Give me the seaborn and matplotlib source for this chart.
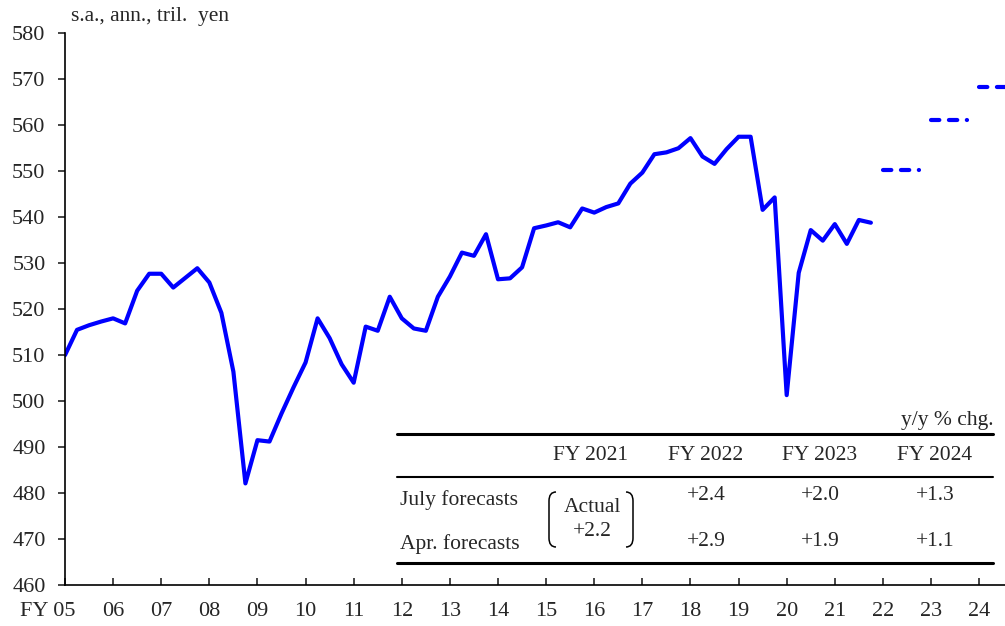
import numpy as np
import pandas as pd
import seaborn as sns
import matplotlib
matplotlib.use("Agg")
from matplotlib import pyplot as plt
from matplotlib.lines import Line2D
from matplotlib.path import Path
from matplotlib.patches import PathPatch
from matplotlib.transforms import ScaledTranslation

# real GDP, quarterly, FY05 Q1 .. FY21 Q4
gdp = [510.0, 515.5, 516.5, 517.3, 518.0, 516.9, 524.0, 527.7, 527.7, 524.7,
       526.8, 528.9, 525.8, 519.2, 506.4, 482.1, 491.5, 491.2, 497.3, 503.0,
       508.4, 518.0, 513.7, 508.0, 504.0, 516.2, 515.3, 522.7, 518.0, 515.8,
       515.3, 522.7, 527.1, 532.3, 531.6, 536.3, 526.5, 526.7, 529.1, 537.6,
       538.2, 538.9, 537.8, 541.9, 541.0, 542.2, 543.0, 547.3, 549.7, 553.7,
       554.1, 555.0, 557.2, 553.2, 551.6, 554.8, 557.5, 557.5, 541.6, 544.3,
       501.3, 527.9, 537.2, 534.9, 538.5, 534.2, 539.4, 538.8]
fc_years = [2022, 2023, 2024]
fc_level = [550.3, 561.1, 568.4]
year_labels = ["FY 05", "06", "07", "08", "09", "10", "11", "12", "13", "14",
               "15", "16", "17", "18", "19", "20", "21", "22", "23", "24"]

tbl_cols = ["FY 2021", "FY 2022", "FY 2023", "FY 2024"]
tbl_rows = ["July forecasts", "Apr. forecasts"]
tbl_actual = "+2.2"
tbl_july = ["+2.4", "+2.0", "+1.3"]
tbl_apr = ["+2.9", "+1.9", "+1.1"]

sns.set_style("white")
plt.rcParams['font.family'] = ['Liberation Serif', 'DejaVu Serif']

W, H = 1005, 626
fig = plt.figure(figsize=(W / 100, H / 100), dpi=100)
ax = fig.add_axes([65 / W, (H - 585) / H, 1 - 65 / W, (585 - 33.3) / H])

df = pd.DataFrame({"q": np.arange(len(gdp)), "gdp": gdp})
sns.lineplot(data=df, x="q", y="gdp", ax=ax, color="#0000ff", lw=3,
             solid_capstyle="round", solid_joinstyle="round")

# forecasts: fiscal year average held flat over the 4 quarters
rows = []
for yr, lv in zip(fc_years, fc_level):
    for k in range(4):
        rows.append({"q": (yr - 2005) * 4 + k, "v": lv, "fy": yr})
fc = pd.DataFrame(rows)
for yr, g in fc.groupby("fy"):
    sns.lineplot(data=g, x="q", y="v", ax=ax, color="#0000ff", lw=3,
                 linestyle=(0, (2, 2.3)), dash_capstyle="round")

ax.set_xlim(0, 78.15)
ax.set_ylim(460, 580)
ax.set_yticks(range(460, 581, 10))
ax.set_xticks(range(0, 77, 4))
ax.set_xticklabels(year_labels)
ax.set_xlabel("")
ax.set_ylabel("")
for s in ["top", "right"]:
    ax.spines[s].set_visible(False)
for s in ["left", "bottom"]:
    ax.spines[s].set_color("black")
    ax.spines[s].set_linewidth(1.2)
ax.tick_params(axis="y", direction="out", length=5, width=1.2, pad=9,
               labelsize=16, left=True)
ax.tick_params(axis="x", direction="in", length=5, width=1.2, pad=12.5,
               labelsize=16, bottom=True)
lab0 = ax.get_xticklabels()[0]
lab0.set_ha("right")
lab0.set_transform(lab0.get_transform() + ScaledTranslation(0.11, 0, fig.dpi_scale_trans))

def T(x, y, s, **kw):
    fig.text(x / W, 1 - y / H, s, fontsize=15.5, va="center", **kw)

def hline(x0, x1, y, lw):
    fig.add_artist(Line2D([x0 / W, x1 / W], [1 - y / H] * 2,
                          transform=fig.transFigure, color="black", lw=lw))

T(71, 17, "s.a., ann., tril.  yen", ha="left")

# table of growth rates
T(993, 421, "y/y % chg.", ha="right")
hline(397, 993, 434, 2.2)
hline(397, 993, 477, 1.5)
hline(397, 993, 563, 2.2)
for x, c in zip([590, 706, 820, 935], tbl_cols):
    T(x, 456, c, ha="center")
T(400, 500, tbl_rows[0], ha="left")
T(400, 544, tbl_rows[1], ha="left")
T(592, 507, "Actual", ha="center")
T(592, 532, tbl_actual, ha="center")
for x, a, b in zip([706, 820, 935], tbl_july, tbl_apr):
    T(x, 496, a, ha="center")
    T(x, 542, b, ha="center")

def bracket(x, y0, y1, side):
    d = 7 * side
    pts = [(x + d, y0), (x, y0), (x, y0 + 9), (x, y1 - 9), (x, y1), (x + d, y1)]
    verts = [(px / W, 1 - py / H) for px, py in pts]
    codes = [Path.MOVETO, Path.CURVE3, Path.CURVE3, Path.LINETO, Path.CURVE3, Path.CURVE3]
    fig.add_artist(PathPatch(Path(verts, codes), transform=fig.transFigure,
                             fill=False, lw=1.1, edgecolor="black"))

bracket(549, 492, 547, 1)
bracket(633, 492, 547, -1)

fig.savefig("out.png", dpi=100)
